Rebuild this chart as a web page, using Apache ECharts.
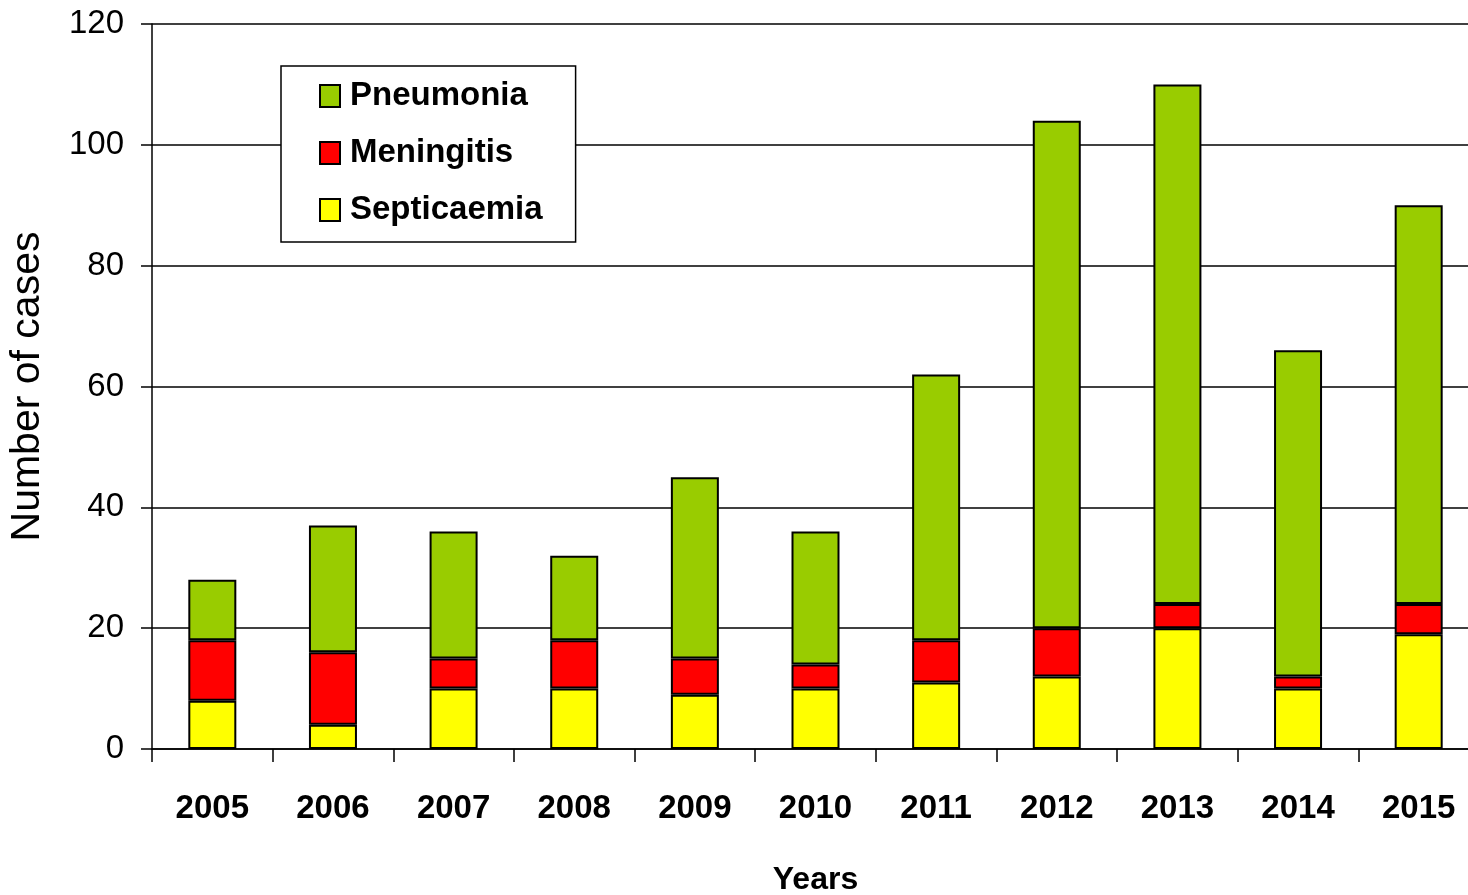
<!DOCTYPE html>
<html>
<head>
<meta charset="utf-8">
<script src="https://cdn.jsdelivr.net/npm/echarts@6/dist/echarts.min.js"></script>
<style>
  html, body { margin: 0; padding: 0; background: #fff; }
  #main { width: 1468px; height: 895px; }
</style>
</head>
<body>
<div id="main"></div>
<script>
// data
const years = ['2005', '2006', '2007', '2008', '2009', '2010', '2011', '2012', '2013', '2014', '2015']
const septicaemia = [8, 4, 10, 10, 9, 10, 11, 12, 20, 10, 19]
const meningitis = [10, 12, 5, 8, 6, 4, 7, 8, 4, 2, 5]
const pneumonia = [10, 21, 21, 14, 30, 22, 44, 84, 86, 54, 66]

const font = "Arial, 'Liberation Sans', sans-serif"

const myChart = echarts.init(document.getElementById('main'))

const barStyle = (color) => ({ color: color, borderColor: '#000', borderWidth: 2 })

myChart.setOption({
  animation: false,
  backgroundColor: '#fff',
  grid: { left: 152, right: -11, top: 24, bottom: 146, containLabel: false, outerBoundsMode: 'none' },
  legend: {
    orient: 'vertical',
    left: 281,
    top: 66,
    data: ['Pneumonia', 'Meningitis', 'Septicaemia'],
    icon: 'rect',
    itemWidth: 20,
    itemHeight: 22,
    itemGap: 17,
    padding: [10, 33, 12, 38],
    backgroundColor: '#fff',
    borderColor: '#000',
    borderWidth: 1.5,
    textStyle: { fontFamily: font, fontWeight: 'bold', fontSize: 33, lineHeight: 40, color: '#000', padding: [0, 0, 0, 5] }
  },
  xAxis: {
    type: 'category',
    data: years,
    name: 'Years',
    nameLocation: 'middle',
    nameGap: 115,
    nameTextStyle: { fontFamily: font, fontWeight: 'bold', fontSize: 32, color: '#000' },
    axisLine: { lineStyle: { color: '#000', width: 1.5 } },
    axisTick: { show: true, length: 13, lineStyle: { color: '#000', width: 1.5 } },
    axisLabel: { interval: 0, fontFamily: font, fontWeight: 'bold', fontSize: 33, color: '#000', margin: 43 }
  },
  yAxis: {
    type: 'value',
    min: 0,
    max: 120,
    interval: 20,
    name: 'Number of cases',
    nameLocation: 'middle',
    nameGap: 104,
    nameTextStyle: { fontFamily: font, fontSize: 41, color: '#000' },
    axisLine: { show: true, lineStyle: { color: '#000', width: 1.5 } },
    axisTick: { show: true, length: 11, lineStyle: { color: '#000', width: 1.5 } },
    axisLabel: { fontFamily: font, fontSize: 33, color: '#000', margin: 28 },
    splitLine: { lineStyle: { color: '#000', width: 1.5 } }
  },
  series: [
    { name: 'Septicaemia', type: 'bar', stack: 'cases', barWidth: 48, data: septicaemia, itemStyle: barStyle('#FFFF00') },
    { name: 'Meningitis', type: 'bar', stack: 'cases', barWidth: 48, data: meningitis, itemStyle: barStyle('#FF0000') },
    { name: 'Pneumonia', type: 'bar', stack: 'cases', barWidth: 48, data: pneumonia, itemStyle: barStyle('#99CC00') }
  ]
})
</script>
</body>
</html>
